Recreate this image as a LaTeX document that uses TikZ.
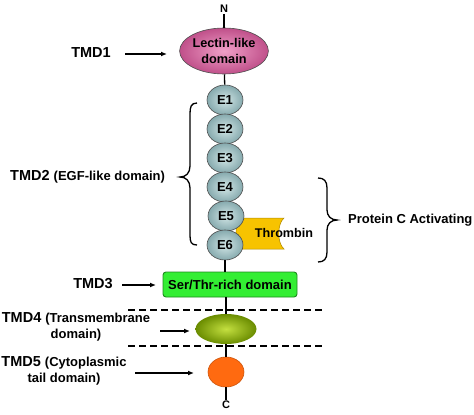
\documentclass[tikz,border=0pt]{standalone}
\usepackage{fontspec}
\setmainfont{Liberation Sans}
\usetikzlibrary{shapes.geometric,arrows.meta}
\definecolor{lecIn}{HTML}{F0A0C8}
\definecolor{lecOut}{HTML}{C0508A}
\definecolor{eIn}{HTML}{D2E6E6}
\definecolor{eOut}{HTML}{86AAAE}
\definecolor{thr}{HTML}{F7C300}
\definecolor{serFill}{HTML}{33EE33}
\definecolor{serDraw}{HTML}{1E8A1E}
\definecolor{tmIn}{HTML}{C4E040}
\definecolor{tmOut}{HTML}{6A8C00}
\definecolor{cyto}{HTML}{FF6A10}
\tikzset{
  lbl/.style={font=\bfseries\fontsize{14.5}{16}\selectfont, inner sep=0pt},
  sub/.style={font=\bfseries\fontsize{13}{15.5}\selectfont},
  egf/.style={ellipse, draw=black!70, line width=0.6pt, minimum width=36pt, minimum height=30pt, inner sep=0pt,
    shading=radial, inner color=eIn, outer color=eOut, font=\bfseries\fontsize{13}{15}\selectfont},
  arr/.style={-{Latex[length=6pt,width=5pt]}, line width=1.3pt},
  chain/.style={line width=1.3pt},
  dsh/.style={line width=1.3pt, dash pattern=on 7pt off 4pt}
}
\begin{document}
\begin{tikzpicture}[x=1pt,y=-1pt]
\useasboundingbox (0,0) rectangle (474,415);
% thrombin shape (behind E5/E6)
\fill[thr, draw=thr!70!black, line width=0.5pt] (236,218) -- (284,218) .. controls (277,224) and (277,243) .. (284,249) -- (236,249) -- cycle;
% N-terminus
\node[font=\bfseries\fontsize{11}{12}\selectfont, inner sep=1pt] (N) at (224,9) {N};
\node[ellipse, draw=black!70, line width=0.6pt, minimum width=80pt, minimum height=46pt, inner sep=0pt,
  shading=radial, inner color=lecIn, outer color=lecOut, align=center,
  font=\bfseries\fontsize{12.7}{16}\selectfont] (lec) at (224,51) {Lectin-like\\domain};
\node[egf] (e1) at (225,100) {E1};
\node[egf] (e2) at (225,129) {E2};
\node[egf] (e3) at (225,158) {E3};
\node[egf] (e4) at (225,187) {E4};
\node[egf] (e5) at (226,216) {E5};
\node[egf] (e6) at (225,245) {E6};
\node[font=\bfseries\fontsize{12.6}{14}\selectfont, inner sep=0pt] (thrt) at (284,233) {Thrombin};
\node[rectangle, rounded corners=3pt, draw=serDraw, line width=0.9pt, fill=serFill,
  minimum width=134pt, minimum height=25pt, inner sep=0pt,
  font=\bfseries\fontsize{13}{15}\selectfont] (ser) at (230,284.5) {Ser/Thr-rich domain};
\node[ellipse, minimum width=61pt, minimum height=30pt, inner sep=0pt,
  shading=radial, inner color=tmIn, outer color=tmOut] (tm) at (226,329) {};
\node[ellipse, draw=cyto!80!black, line width=0.6pt, minimum width=36pt, minimum height=30pt, inner sep=0pt, fill=cyto] (cy) at (226,372) {};
\node[font=\bfseries\fontsize{11}{12}\selectfont, inner sep=1pt] (C) at (226,405) {C};
% chain
\draw[chain] (N) -- (lec);
\draw[chain] (lec) -- (e1);
\draw[chain] (e6.south) -- (ser.north -| e6.south);
\draw[chain] (ser.south -| tm.north) -- (tm);
\draw[chain] (tm) -- (cy);
\draw[chain] (cy) -- (C);
% dashed membrane
\coordinate (d1a) at (128,310); \coordinate (d1b) at (325,310);
\coordinate (d2a) at (128,346); \coordinate (d2b) at (325,346);
\draw[dsh] (d1a) -- (d1b);
\draw[dsh] (d2a) -- (d2b);
% labels
\node[lbl] (t1) at (91,53) {TMD1};
\node[lbl, anchor=west] (t2) at (10,177) {TMD2 \fontsize{13}{15}\selectfont(EGF-like domain)};
\node[lbl] (t3) at (93,284) {TMD3};
\node[lbl, align=center] (t4) at (76,327) {TMD4 \fontsize{13}{15}\selectfont(Transmembrane\\\fontsize{13}{15}\selectfont domain)};
\node[lbl, align=center] (t5) at (64,371) {TMD5 \fontsize{13}{15}\selectfont(Cytoplasmic\\\fontsize{13}{15}\selectfont tail domain)};
\node[font=\bfseries\fontsize{13}{15}\selectfont, anchor=west, inner sep=0pt] (pc) at (348,220) {Protein C Activating};
% arrows
\coordinate (a1s) at (125,54); \coordinate (a1e) at (167,54);
\coordinate (a3s) at (122,285); \coordinate (a3e) at (156,285);
\coordinate (a4s) at (160,331); \coordinate (a4e) at (190,331);
\coordinate (a5s) at (135,373); \coordinate (a5e) at (194,373);
\draw[arr] (a1s) -- (a1e);
\draw[arr] (a3s) -- (a3e);
\draw[arr] (a4s) -- (a4e);
\draw[arr] (a5s) -- (a5e);
% braces
\draw[line width=1.3pt] (197,103) .. controls (191,103) and (190,107) .. (190,114) -- (190,166)
  .. controls (190,173) and (186,177) .. (180,177) .. controls (186,177) and (190,181) .. (190,188)
  -- (190,235) .. controls (190,242) and (191,245) .. (197,245);
\draw[line width=1.3pt] (318,178) .. controls (324,178) and (327,181) .. (327,188) -- (327,210)
  .. controls (327,216) and (331,220) .. (337,220) .. controls (331,220) and (327,224) .. (327,230)
  -- (327,252) .. controls (327,259) and (324,262) .. (318,262);
\end{tikzpicture}
\end{document}
